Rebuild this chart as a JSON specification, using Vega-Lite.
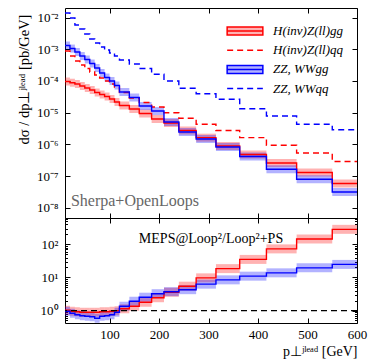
{
  "$schema": "https://vega.github.io/schema/vega-lite/v6.json",
  "padding": {"left": 15, "top": 7, "right": 4, "bottom": 5},
  "background": "white",
  "spacing": 0,
  "bounds": "flush",
  "config": {
    "font": "Liberation Serif",
    "view": {"stroke": "black", "strokeWidth": 1},
    "axis": {"grid": false, "domain": false, "tickColor": "black", "tickSize": -5, "tickWidth": 1, "labelFlush": false,
      "labelFont": "Liberation Serif", "labelFontSize": 13, "labelColor": "black", "labelPadding": 12,
      "titleFont": "Liberation Serif", "titleFontSize": 13, "titleFontWeight": "normal", "titleColor": "black"}
  },
  "resolve": {"scale": {"x": "independent", "y": "independent", "color": "independent", "stroke": "independent", "strokeDash": "independent"}, "legend": {"color": "independent", "stroke": "independent", "strokeDash": "independent"}},
  "datasets": {
    "main": [
      {"x0": 10, "x1": 20, "hgg": 9.58e-5, "hqq": 8.78e-4, "zgg": 1.31e-3, "zqq": 1.39e-2},
      {"x0": 20, "x1": 30, "hgg": 8.78e-5, "hqq": 6.10e-4, "zgg": 1.05e-3, "zqq": 9.65e-3},
      {"x0": 30, "x1": 40, "hgg": 7.99e-5, "hqq": 4.25e-4, "zgg": 8.17e-4, "zqq": 5.80e-3},
      {"x0": 40, "x1": 50, "hgg": 6.91e-5, "hqq": 3.18e-4, "zgg": 6.10e-4, "zqq": 4.34e-3},
      {"x0": 50, "x1": 60, "hgg": 5.97e-5, "hqq": 2.46e-4, "zgg": 4.74e-4, "zqq": 3.02e-3},
      {"x0": 60, "x1": 70, "hgg": 5.17e-5, "hqq": 1.91e-4, "zgg": 3.54e-4, "zqq": 2.10e-3},
      {"x0": 70, "x1": 80, "hgg": 4.31e-5, "hqq": 1.54e-4, "zgg": 2.55e-4, "zqq": 1.57e-3},
      {"x0": 80, "x1": 90, "hgg": 3.73e-5, "hqq": 1.24e-4, "zgg": 1.78e-4, "zqq": 1.17e-3},
      {"x0": 90, "x1": 100, "hgg": 3.22e-5, "hqq": 9.94e-5, "zgg": 1.28e-4, "zqq": 9.44e-4},
      {"x0": 100, "x1": 110, "hgg": 2.69e-5, "hqq": 7.99e-5, "zgg": 9.94e-5, "zqq": 7.59e-4},
      {"x0": 110, "x1": 120, "hgg": 2.16e-5, "hqq": 6.43e-5, "zgg": 7.16e-5, "zqq": 6.10e-4},
      {"x0": 120, "x1": 140, "hgg": 1.68e-5, "hqq": 4.31e-5, "zgg": 4.47e-5, "zqq": 4.57e-4},
      {"x0": 140, "x1": 160, "hgg": 1.30e-5, "hqq": 2.89e-5, "zgg": 3.00e-5, "zqq": 3.41e-4},
      {"x0": 160, "x1": 185, "hgg": 9.37e-6, "hqq": 2.08e-5, "zgg": 1.62e-5, "zqq": 2.46e-4},
      {"x0": 185, "x1": 210, "hgg": 6.29e-6, "hqq": 1.50e-5, "zgg": 1.12e-5, "zqq": 1.62e-4},
      {"x0": 210, "x1": 240, "hgg": 4.70e-6, "hqq": 9.94e-6, "zgg": 5.06e-6, "zqq": 9.94e-5},
      {"x0": 240, "x1": 275, "hgg": 2.73e-6, "hqq": 6.61e-6, "zgg": 2.45e-6, "zqq": 5.85e-5},
      {"x0": 275, "x1": 315, "hgg": 1.62e-6, "hqq": 4.28e-6, "zgg": 1.47e-6, "zqq": 3.95e-5},
      {"x0": 315, "x1": 363, "hgg": 8.85e-7, "hqq": 2.73e-6, "zgg": 8.23e-7, "zqq": 2.63e-5},
      {"x0": 363, "x1": 417, "hgg": 4.77e-7, "hqq": 1.62e-6, "zgg": 4.12e-7, "zqq": 1.33e-5},
      {"x0": 417, "x1": 478, "hgg": 2.57e-7, "hqq": 9.31e-7, "zgg": 1.63e-7, "zqq": 7.82e-6},
      {"x0": 478, "x1": 550, "hgg": 1.29e-7, "hqq": 5.32e-7, "zgg": 7.88e-8, "zqq": 4.28e-6},
      {"x0": 550, "x1": 600, "hgg": 5.80e-8, "hqq": 2.87e-7, "zgg": 3.13e-8, "zqq": 2.87e-6}
    ],
    "ratio": [
      {"x0": 10, "x1": 20, "rh": 1.02, "rz": 0.952},
      {"x0": 20, "x1": 30, "rh": 0.952, "rz": 0.828},
      {"x0": 30, "x1": 40, "rh": 0.920, "rz": 0.746},
      {"x0": 40, "x1": 50, "rh": 0.888, "rz": 0.696},
      {"x0": 50, "x1": 60, "rh": 0.888, "rz": 0.672},
      {"x0": 60, "x1": 70, "rh": 0.888, "rz": 0.649},
      {"x0": 70, "x1": 80, "rh": 0.888, "rz": 0.584},
      {"x0": 80, "x1": 90, "rh": 0.920, "rz": 0.672},
      {"x0": 90, "x1": 100, "rh": 0.920, "rz": 0.696},
      {"x0": 100, "x1": 110, "rh": 0.952, "rz": 0.746},
      {"x0": 110, "x1": 120, "rh": 0.986, "rz": 0.888},
      {"x0": 120, "x1": 140, "rh": 1.13, "rz": 1.35},
      {"x0": 140, "x1": 160, "rh": 1.35, "rz": 1.91},
      {"x0": 160, "x1": 185, "rh": 1.78, "rz": 2.53},
      {"x0": 185, "x1": 210, "rh": 2.44, "rz": 3.23},
      {"x0": 210, "x1": 240, "rh": 3.58, "rz": 3.71},
      {"x0": 240, "x1": 275, "rh": 5.45, "rz": 4.27},
      {"x0": 275, "x1": 315, "rh": 9.72, "rz": 6.27},
      {"x0": 315, "x1": 363, "rh": 18.5, "rz": 8.46},
      {"x0": 363, "x1": 417, "rh": 35.1, "rz": 10.95},
      {"x0": 417, "x1": 478, "rh": 73.0, "rz": 13.8},
      {"x0": 478, "x1": 550, "rh": 144.7, "rz": 19.5},
      {"x0": 550, "x1": 600, "rh": 284.8, "rz": 24.8}
    ]
  },
  "vconcat": [
    {
      "width": 292,
      "height": 210,
      "layer": [
        {
          "data": {"name": "main"},
          "transform": [{"fold": ["hgg", "hqq", "zgg", "zqq"], "as": ["sb", "v"]}],
          "mark": {"type": "rule", "strokeWidth": 8, "strokeOpacity": 0.3, "strokeCap": "butt"},
          "encoding": {
            "x": {"field": "x0", "type": "quantitative", "scale": {"domain": [10, 600], "nice": false, "zero": false},
              "axis": {"orient": "bottom", "values": [100, 200, 300, 400, 500, 600], "labels": false, "title": null}},
            "x2": {"field": "x1"},
            "y": {"field": "v", "type": "quantitative", "scale": {"type": "log", "domain": [4.73e-9, 0.02], "nice": false},
              "axis": {"orient": "left", "values": [1e-8, 1e-7, 1e-6, 1e-5, 1e-4, 1e-3, 1e-2],
                "labelExpr": "'10' + ['⁻⁸','⁻⁷','⁻⁶','⁻⁵','⁻⁴','⁻³','⁻²'][round(log(datum.value)/LN10)+8]",
                "title": "dσ / dp⊥ʲˡᵉᵃᵈ [pb/GeV]", "titlePadding": 5, "titleFontSize": 14.5, "titleY": 71}},
            "stroke": {"field": "sb", "type": "nominal",
              "scale": {"domain": ["hgg", "hqq", "zgg", "zqq", "none"], "range": ["#ff0000", "transparent", "#0000ff", "transparent", "transparent"]},
              "legend": {"orient": "none", "legendX": 172, "legendY": 15, "title": null, "symbolType": "M-2.55,-0.57H2.55V0.57H-2.55Z",
                "symbolSize": 196, "symbolStrokeWidth": 1.5, "rowPadding": 4.2, "labelOffset": 20,
                "labelFont": "Liberation Serif", "labelFontSize": 13, "labelColor": "transparent",
                "labelExpr": "''",
                "encode": {"symbols": {"update": {
                  "fill": {"signal": "datum.value == 'hgg' ? '#ff0000' : datum.value == 'zgg' ? '#0000ff' : 'transparent'"},
                  "fillOpacity": {"value": 0.3}, "stroke": {"value": "transparent"}, "opacity": {"value": 1}}}}}}
          }
        },
        {
          "data": {"name": "main"},
          "transform": [{"fold": ["hgg", "hqq", "zgg", "zqq"], "as": ["s", "v"]}, {"fold": ["x0", "x1"], "as": ["edge", "x"]}],
          "mark": {"type": "line", "strokeWidth": 1.4},
          "encoding": {
            "x": {"field": "x", "type": "quantitative", "axis": {"orient": "top", "values": [100, 200, 300, 400, 500, 600], "labels": false, "title": null}},
            "y": {"field": "v", "type": "quantitative", "axis": {"orient": "right", "values": [1e-8, 1e-7, 1e-6, 1e-5, 1e-4, 1e-3, 1e-2], "labels": false, "title": null}},
            "color": {"field": "s", "type": "nominal",
              "scale": {"domain": ["hgg", "hqq", "zgg", "zqq"], "range": ["#ff0000", "#ff0000", "#0000ff", "#0000ff"]},
              "legend": {"orient": "none", "legendX": 172, "legendY": 15, "title": null, "symbolType": "M-2.55,0H2.55",
                "symbolSize": 196, "symbolStrokeWidth": 1.5, "rowPadding": 4.2, "labelOffset": 20,
                "labelFont": "Liberation Serif", "labelFontSize": 13, "labelColor": "black", "labelFontStyle": "italic",
                "labelExpr": "datum.value == 'hgg' ? 'H(inv)Z(ll)gg' : datum.value == 'hqq' ? 'H(inv)Z(ll)qq' : datum.value == 'zgg' ? 'ZZ, WWgg' : 'ZZ, WWqq'"}},
            "strokeDash": {"field": "s", "type": "nominal",
              "scale": {"domain": ["hgg", "hqq", "zgg", "zqq"], "range": [[1, 0], [6, 4], [1, 0], [6, 4]]},
              "legend": {"orient": "none", "legendX": 172, "legendY": 15, "title": null, "symbolType": "M-2.55,0H2.55",
                "symbolSize": 196, "symbolStrokeWidth": 1.5, "rowPadding": 4.2, "labelOffset": 20,
                "labelFont": "Liberation Serif", "labelFontSize": 13, "labelColor": "black", "labelFontStyle": "italic",
                "labelExpr": "datum.value == 'hgg' ? 'H(inv)Z(ll)gg' : datum.value == 'hqq' ? 'H(inv)Z(ll)qq' : datum.value == 'zgg' ? 'ZZ, WWgg' : 'ZZ, WWqq'"}},
            "order": [{"field": "x", "type": "quantitative"}, {"field": "edge", "sort": "descending"}]
          }
        },
        {
          "data": {"values": [{"label": "Sherpa+OpenLoops"}]},
          "mark": {"type": "text", "font": "Liberation Serif", "fontSize": 16, "color": "#666666", "align": "left", "baseline": "alphabetic"},
          "encoding": {
            "x": {"datum": 22, "type": "quantitative", "axis": null},
            "y": {"datum": 1.13e-8, "type": "quantitative", "axis": null},
            "text": {"field": "label"}
          }
        }
      ],
      "resolve": {"axis": {"x": "independent", "y": "independent"}}
    },
    {
      "width": 292,
      "height": 105,
      "layer": [
        {
          "data": {"name": "ratio"},
          "transform": [{"fold": ["rh", "rz"], "as": ["s", "v"]}],
          "mark": {"type": "rule", "strokeWidth": 9, "strokeOpacity": 0.3, "strokeCap": "butt"},
          "encoding": {
            "x": {"field": "x0", "type": "quantitative", "scale": {"domain": [10, 600], "nice": false, "zero": false},
              "axis": {"orient": "bottom", "values": [100, 200, 300, 400, 500, 600], "labelPadding": 10, "title": "p⊥ʲˡᵉᵃᵈ [GeV]", "titleAnchor": "end", "titlePadding": 3, "titleFontSize": 14}},
            "x2": {"field": "x1"},
            "y": {"field": "v", "type": "quantitative", "scale": {"type": "log", "domain": [0.42, 627], "nice": false},
              "axis": {"orient": "left", "values": [1, 10, 100], "title": null,
                "labelExpr": "'10' + ['⁰','¹','²'][round(log(datum.value)/LN10)]"}},
            "stroke": {"field": "s", "type": "nominal", "scale": {"domain": ["rh", "rz"], "range": ["#ff0000", "#0000ff"]}, "legend": null}
          }
        },
        {
          "data": {"name": "ratio"},
          "transform": [{"fold": ["rh", "rz"], "as": ["s", "v"]}, {"fold": ["x0", "x1"], "as": ["edge", "x"]}],
          "mark": {"type": "line", "strokeWidth": 1.4},
          "encoding": {
            "x": {"field": "x", "type": "quantitative", "axis": {"orient": "top", "values": [100, 200, 300, 400, 500, 600], "labels": false, "title": null}},
            "y": {"field": "v", "type": "quantitative", "axis": {"orient": "right", "values": [1, 10, 100], "labels": false, "title": null}},
            "color": {"field": "s", "type": "nominal", "scale": {"domain": ["rh", "rz"], "range": ["#ff0000", "#0000ff"]}, "legend": null},
            "order": [{"field": "x", "type": "quantitative"}, {"field": "edge", "sort": "descending"}]
          }
        },
        {
          "data": {"values": [{"r": 1}]},
          "mark": {"type": "rule", "color": "black", "strokeWidth": 1.2, "strokeDash": [6, 4]},
          "encoding": {"y": {"field": "r", "type": "quantitative",
            "axis": {"orient": "left", "values": [0.5, 0.6, 0.7, 0.8, 0.9, 2, 3, 4, 5, 6, 7, 8, 9, 20, 30, 40, 50, 60, 70, 80, 90, 200, 300, 400, 500, 600], "labels": false, "tickSize": -2.5, "title": null}}}
        },
        {
          "data": {"values": [{"label": "MEPS@Loop²/Loop²+PS"}]},
          "mark": {"type": "text", "font": "Liberation Serif", "fontSize": 14, "color": "black", "align": "center", "baseline": "middle"},
          "encoding": {
            "x": {"datum": 305, "type": "quantitative", "axis": null},
            "y": {"datum": 145, "type": "quantitative",
              "axis": {"orient": "right", "values": [0.5, 0.6, 0.7, 0.8, 0.9, 2, 3, 4, 5, 6, 7, 8, 9, 20, 30, 40, 50, 60, 70, 80, 90, 200, 300, 400, 500, 600], "labels": false, "tickSize": -2.5, "title": null}},
            "text": {"field": "label"}
          }
        }
      ],
      "resolve": {"axis": {"x": "independent", "y": "independent"}}
    }
  ]
}
